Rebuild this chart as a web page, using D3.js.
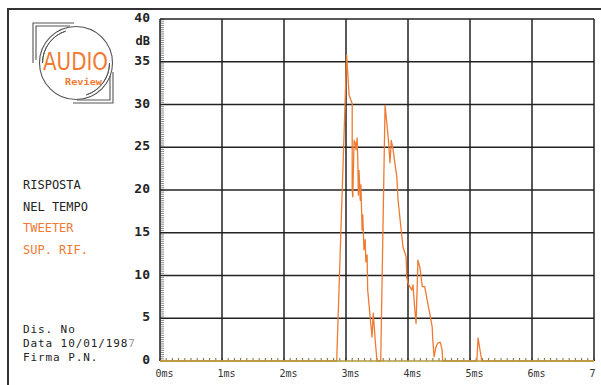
<!DOCTYPE html>
<html>
<head>
<meta charset="utf-8">
<script src="https://cdn.jsdelivr.net/npm/d3@7"></script>
<style>
  html, body { margin: 0; padding: 0; background: #fff; }
  svg { display: block; }
</style>
</head>
<body>
<svg id="chart" width="601" height="385"></svg>
<script>
// tick values and labels
const yTicks = [0, 5, 10, 15, 20, 25, 30, 35, 40];
const xTicks = [0, 1, 2, 3, 4, 5, 6, 7];
const xTickLabels = ["0ms", "1ms", "2ms", "3ms", "4ms", "5ms", "6ms", "7"];

// trace: time in ms, level in dB
const timeMs = [0, 2.85, 3.01, 3.05, 3.08, 3.10, 3.10, 3.11, 3.13, 3.15, 3.16, 3.18, 3.19, 3.20, 3.21,
  3.23, 3.24, 3.26, 3.27, 3.29, 3.31, 3.32, 3.34, 3.35, 3.39, 3.42, 3.44, 3.47, 3.50, 3.56, 3.63,
  3.68, 3.71, 3.73, 3.76, 3.81, 3.82, 3.84, 3.87, 3.92, 3.97, 3.98, 4.00, 4.03, 4.06, 4.08, 4.11,
  4.13, 4.15, 4.16, 4.19, 4.23, 4.27, 4.31, 4.35, 4.39, 4.40, 4.42, 4.45, 4.48, 4.52, 4.55, 4.56,
  5.11, 5.13, 5.19, 7];
const levelDb = [0, 0, 35.8, 31.1, 30.5, 30.1, 20.0, 19.2, 25.8, 25.5, 24.7, 26.1, 23.5, 19.4, 22.3,
  18.8, 20.6, 15.3, 17.1, 13.0, 14.2, 11.6, 12.4, 8.3, 5.1, 2.8, 5.6, 2.5, 0, 0, 29.9,
  26.2, 23.2, 25.8, 24.7, 22.0, 21.5, 18.8, 16.7, 13.3, 12.2, 9.8, 9.1, 8.7, 8.3, 8.9, 6.0,
  4.4, 9.1, 11.8, 11.0, 8.7, 8.7, 7.1, 5.6, 4.0, 2.5, 0.5, 1.6, 2.1, 2.2, 1.3, 0,
  0, 2.7, 0, 0];

const leftTop = ["RISPOSTA", "NEL TEMPO"];
const leftOrange = ["TWEETER", "SUP. RIF."];

const orange = "#f07a32";
const ink = "#222";

const svg = d3.select("#chart");

let x = d3.scaleLinear().domain([0, 7]).range([160, 594]);
let y = d3.scaleLinear().domain([0, 40]).range([361, 19]);

// outer frame of the sheet (runs off the page)
svg.append("path")
  .attr("d", "M8,390 L8,9 L610,9")
  .attr("fill", "none").attr("stroke", "#333").attr("stroke-width", 2);

// minor ticks on the dB axis
svg.append("g").selectAll("line")
  .data(d3.range(0, 40.01, 0.25))
  .join("line")
  .attr("x1", 160).attr("x2", 164)
  .attr("y1", d => y(d)).attr("y2", d => y(d))
  .attr("stroke", "#555").attr("stroke-width", 0.7);

// minor ticks on the time axis
svg.append("g").selectAll("line")
  .data(d3.range(0, 7.001, 0.1))
  .join("line")
  .attr("x1", d => x(d)).attr("x2", d => x(d))
  .attr("y1", y(0)).attr("y2", y(0) - 3)
  .attr("stroke", "#6a5a20").attr("stroke-width", 0.9);

// grid
svg.append("g").selectAll("line")
  .data(yTicks.filter(d => d > 0))
  .join("line")
  .attr("x1", x(0)).attr("x2", x(7))
  .attr("y1", d => y(d)).attr("y2", d => y(d))
  .attr("stroke", ink).attr("stroke-width", 1.5);

svg.append("g").selectAll("line")
  .data(xTicks)
  .join("line")
  .attr("x1", d => x(d)).attr("x2", d => x(d))
  .attr("y1", y(0)).attr("y2", y(40))
  .attr("stroke", ink).attr("stroke-width", 1.5);

// trace
let line = d3.line()
  .x((d, i) => x(timeMs[i]))
  .y(d => y(d));

svg.append("path")
  .datum(levelDb)
  .attr("d", line)
  .attr("fill", "none")
  .attr("stroke", orange)
  .attr("stroke-width", 1.3)
  .attr("stroke-linejoin", "round");

// baseline, drawn over the flat part of the trace
svg.append("line")
  .attr("x1", x(0)).attr("x2", x(7))
  .attr("y1", y(0)).attr("y2", y(0))
  .attr("stroke", "#b09a40").attr("stroke-width", 1.4);

// axes labels
let yAxis = d3.axisLeft(y).tickValues(yTicks).tickSize(0).tickPadding(10);
let gy = svg.append("g").attr("transform", "translate(160,0)").call(yAxis);
gy.select(".domain").remove();
gy.selectAll("text")
  .attr("dy", "0.2em")
  .style("font-family", "DejaVu Sans Mono")
  .style("font-size", "13px")
  .style("font-weight", "bold")
  .style("fill", ink);

svg.append("text")
  .attr("x", 150).attr("y", 45)
  .attr("text-anchor", "end")
  .style("font-family", "DejaVu Sans Mono")
  .style("font-size", "12px")
  .style("font-weight", "bold")
  .style("fill", ink)
  .text("dB");

let xAxis = d3.axisBottom(x).tickValues(xTicks).tickSize(0).tickPadding(9)
  .tickFormat((d, i) => xTickLabels[i]);
let gx = svg.append("g").attr("transform", `translate(0,${y(0)})`).call(xAxis);
gx.select(".domain").remove();
gx.selectAll("text")
  .attr("text-anchor", "start")
  .attr("dx", -5)
  .style("font-family", "DejaVu Sans Mono")
  .style("font-size", "10px")
  .style("fill", "#333");

// side notes
svg.append("g").selectAll("text")
  .data(leftTop.concat(leftOrange))
  .join("text")
  .attr("x", 23)
  .attr("y", (d, i) => 189 + i * 21.5)
  .style("font-family", "DejaVu Sans Mono")
  .style("font-size", "12px")
  .style("fill", (d, i) => i < 2 ? ink : orange)
  .text(d => d);

const notes = svg.append("g")
  .style("font-family", "DejaVu Sans Mono")
  .style("font-size", "11px")
  .style("letter-spacing", "0.9px")
  .style("fill", ink);
notes.append("text").attr("x", 23).attr("y", 333).text("Dis. No");
let dt = notes.append("text").attr("x", 23).attr("y", 347);
dt.append("tspan").text("Data 10/01/198");
dt.append("tspan").style("fill", "#999").text("7");
notes.append("text").attr("x", 23).attr("y", 361).text("Firma P.N.");

// logo
const logo = svg.append("g");
const cx = 76, cy = 63;
logo.append("circle").attr("cx", cx).attr("cy", cy).attr("r", 36.5)
  .attr("fill", "none").attr("stroke", "#555").attr("stroke-width", 1.1);
let arc = d3.arc().innerRadius(33.5).outerRadius(33.5);
logo.append("path")
  .attr("transform", `translate(${cx},${cy})`)
  .attr("d", arc({ startAngle: -Math.PI * 0.5, endAngle: -Math.PI * 0.1 }))
  .attr("fill", "none").attr("stroke", "#555").attr("stroke-width", 1);
logo.append("path")
  .attr("transform", `translate(${cx},${cy})`)
  .attr("d", arc({ startAngle: Math.PI * 0.5, endAngle: Math.PI * 0.9 }))
  .attr("fill", "none").attr("stroke", "#555").attr("stroke-width", 1);
logo.append("path")
  .attr("d", "M33,63 L33,23 L74,23 M36,60 L36,26 L70,26")
  .attr("fill", "none").attr("stroke", "#555").attr("stroke-width", 1.1);
logo.append("path")
  .attr("d", "M113,72 L113,103 L73,103 M110,76 L110,100 L77,100")
  .attr("fill", "none").attr("stroke", "#555").attr("stroke-width", 1.1);
logo.append("text")
  .attr("x", 43).attr("y", 70)
  .attr("textLength", 65).attr("lengthAdjust", "spacingAndGlyphs")
  .style("font-family", "DejaVu Sans")
  .style("font-size", "24px")
  .style("font-weight", "normal")
  .style("fill", orange)
  .text("AUDIO");
logo.append("text")
  .attr("x", 65).attr("y", 85)
  .attr("textLength", 37).attr("lengthAdjust", "spacingAndGlyphs")
  .style("font-family", "DejaVu Sans Mono")
  .style("font-size", "9px")
  .style("font-weight", "bold")
  .style("fill", orange)
  .text("Review");
</script>
</body>
</html>
